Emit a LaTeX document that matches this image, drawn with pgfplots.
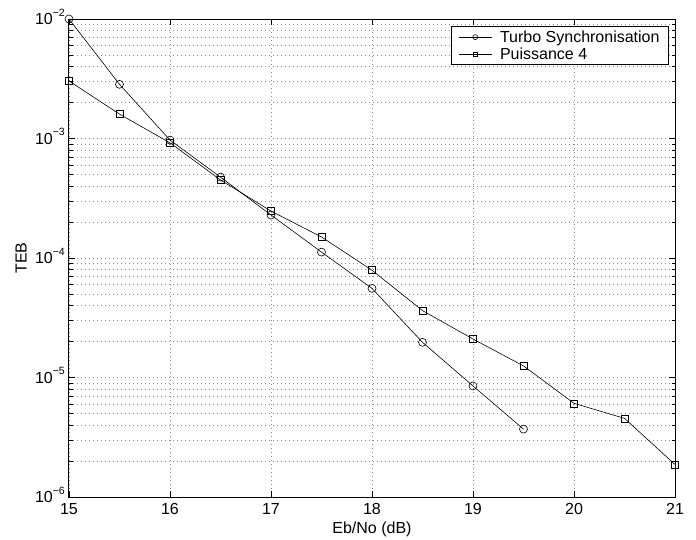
\documentclass[border=0pt]{standalone}
\usepackage{pgfplots}
\pgfplotsset{compat=1.18}
\usepackage{fontspec}
\setmainfont{Liberation Sans}
\newcommand{\sfs}{\fontsize{16}{19}\selectfont}
\newcommand{\ytl}[1]{10\smash{\raisebox{8.5pt}{\fontsize{10.5}{12}\selectfont −#1}}}
\pgfplotsset{mylegimg/.style={legend image code/.code={%
  \pgftransformresetnontranslations
  \draw[mark repeat=2,mark phase=2,##1,mark size=#1] plot coordinates {(0pt,0pt) (16.5pt,0pt) (33pt,0pt)};}}}
\begin{document}
\begin{tikzpicture}
\begin{axis}[
  scale only axis, width=606pt, height=478pt,
  xmin=15, xmax=21, ymode=log, ymin=1e-6, ymax=1e-2,
  xtick={15,16,17,18,19,20,21},
  xticklabels={15,16,17,18,19,20,21},
  ytick={1e-6,1e-5,1e-4,1e-3,1e-2},
  yticklabels={\ytl{6},\ytl{5},\ytl{4},\ytl{3},\ytl{2}},
  tick align=inside, xtick pos=both, ytick pos=both,
  major tick length=6pt, minor tick length=3.5pt,
  tick style={black, line width=0.6pt},
  axis line style={line width=1pt},
  grid=both,
  major grid style={black!45, line width=0.5pt, dash pattern=on 0.8pt off 3.2pt},
  minor grid style={black!45, line width=0.5pt, dash pattern=on 0.8pt off 3.2pt},
  minor x tick num=0,
  xticklabel style={font=\sfs, inner sep=0pt, anchor=north, yshift=-6pt},
  yticklabel style={font=\sfs, inner sep=0pt, anchor=east, xshift=-4pt},
  xlabel={Eb/No (dB)}, ylabel={TEB},
  xlabel style={font=\sfs, at={(axis description cs:0.5,0)}, anchor=center, yshift=-32pt},
  ylabel style={font=\sfs, at={(axis description cs:0,0.5)}, anchor=center, yshift=48pt},
  legend style={font=\sfs, at={(0.99,0.985)}, anchor=north east, draw=black, line width=0.8pt,
    inner xsep=7pt, inner ysep=2pt,
    /tikz/every odd column/.append style={column sep=6pt},
    cells={anchor=west}},
]
\addplot[black, line width=0.6pt, mark=o, mark size=4pt, mark options={solid}, mylegimg=2.5pt] coordinates {
(15,1e-2) (15.5,2.84e-3) (16,9.7e-4) (16.5,4.75e-4) (17,2.29e-4) (17.5,1.12e-4)
(18,5.57e-5) (18.5,1.97e-5) (19,8.5e-6) (19.5,3.7e-6)};
\addlegendentry{Turbo Synchronisation}
\addplot[black, line width=0.6pt, mark=square, mark size=3.5pt, mark options={solid}, mylegimg=2.2pt] coordinates {
(15,3.03e-3) (15.5,1.6e-3) (16,9.2e-4) (16.5,4.5e-4) (17,2.47e-4) (17.5,1.5e-4)
(18,7.9e-5) (18.5,3.63e-5) (19,2.1e-5) (19.5,1.25e-5) (20,6.08e-6) (20.5,4.55e-6) (21,1.87e-6)};
\addlegendentry{Puissance 4}
\end{axis}
\path (current axis.south west) ++(-69pt,-43pt) rectangle ++(696pt,540pt);
\end{tikzpicture}
\end{document}
